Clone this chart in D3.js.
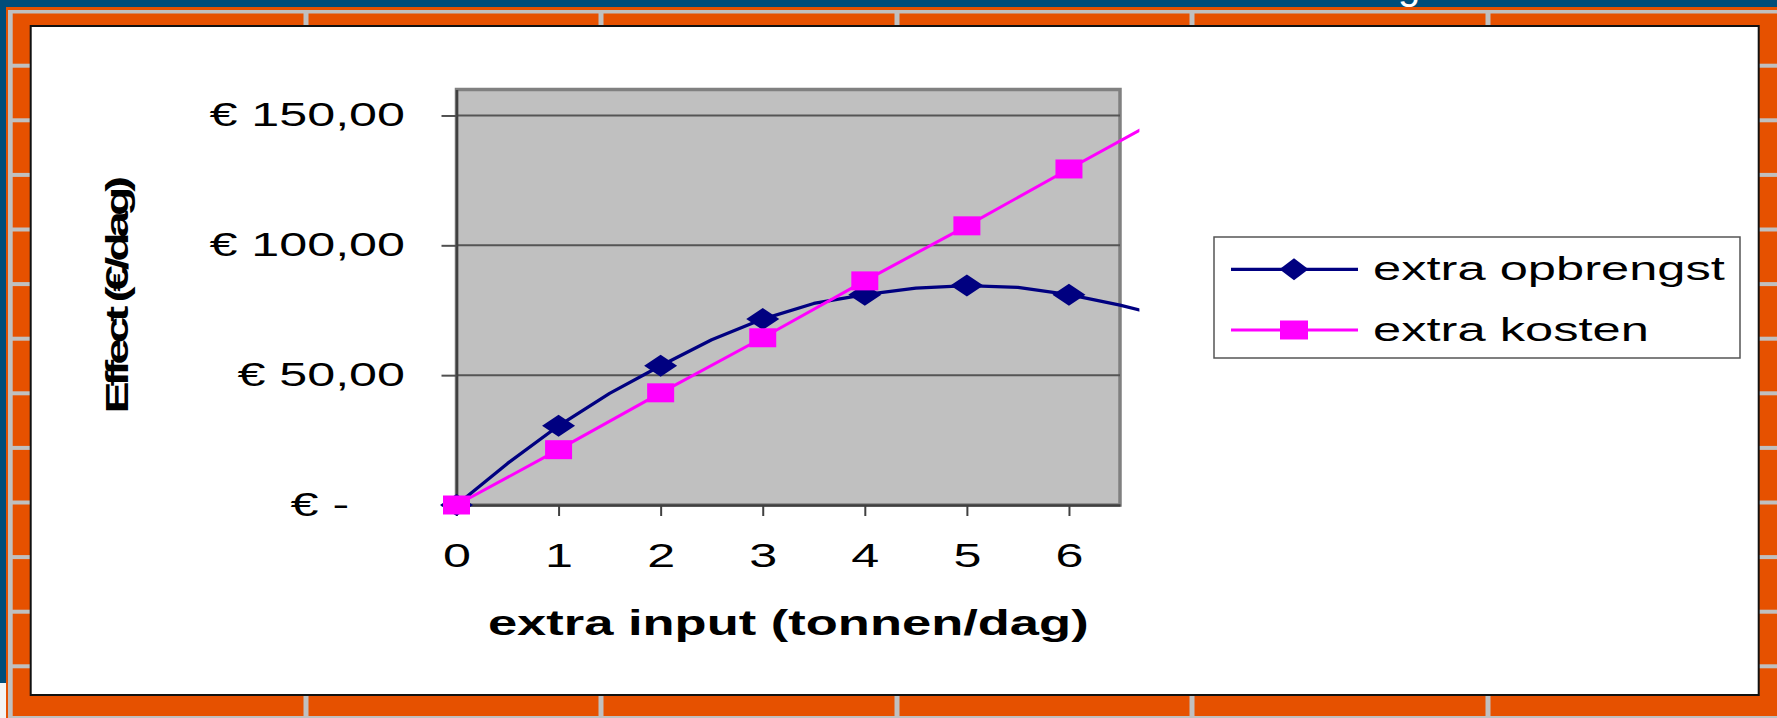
<!DOCTYPE html>
<html><head><meta charset="utf-8">
<script src="https://cdn.jsdelivr.net/npm/d3@7"></script>
<style>html,body{margin:0;padding:0;overflow:hidden;background:#E65100}</style>
</head><body><svg id="c" width="1777" height="718"></svg>
<script>
// ---- data ----
const opbrengstX = [0,0.5,1,1.5,2,2.5,3,3.5,4,4.5,5,5.5,6,6.5,7];
const opbrengst  = [0,16,30.5,43,53.6,63.6,71.6,77.6,81,83.5,84.5,83.8,81,77,72];
const kostenX = [0,1,2,3,4,5,6,7];
const kosten  = [0,21.3,43.2,64.4,86.3,107.5,129.4,151];
const markerX = [0,1,2,3,4,5,6];
const xTicks = [0,1,2,3,4,5,6];
const yTicks = [0,50,100,150];
const yTickLabels = ["€ -\u2007\u2007","€ 50,00","€ 100,00","€ 150,00"];
const seriesNames = ["extra opbrengst","extra kosten"];
const xTitle = "extra input (tonnen/dag)";
const yTitle = "Effect (€/dag)";
const xDomain = [0,6.5], yDomain = [0,160], xClip = 6.69;

// ---- layout / style ----
const W=1777,H=718;
const ORANGE="#E65100", GREY="#C0C0C0", BLUE="#004D7A";
const NAVY="#000080", PINK="#FF00FF";
const FONT="'Liberation Sans', Arial, sans-serif";
const SX=1.5; // horizontal text stretch seen in the reference

const svg=d3.select("#c");
// frame background
svg.append("rect").attr("width",W).attr("height",H).attr("fill",ORANGE);
svg.append("rect").attr("x",0).attr("y",0).attr("width",W).attr("height",7).attr("fill",BLUE);
svg.append("rect").attr("x",0).attr("y",0).attr("width",6).attr("height",683).attr("fill",BLUE);
svg.append("rect").attr("x",0).attr("y",683).attr("width",6).attr("height",35).attr("fill","#F4F4F4");
// title remnant (slide title cut off at the top)
svg.append("text").attr("x",1409).attr("y",-1.5).attr("text-anchor","middle")
  .attr("font-family",FONT).attr("font-size",40).attr("fill","#fff").text("g");
// grey brick lines
svg.append("rect").attr("x",8).attr("y",10).attr("width",W-8).attr("height",3.5).attr("fill",GREY);
svg.append("rect").attr("x",8).attr("y",10).attr("width",4.7).attr("height",H-10).attr("fill",GREY);
svg.append("rect").attr("x",8).attr("y",716).attr("width",W-8).attr("height",2).attr("fill",GREY);
const brickV=[306,601,897,1192,1488];
brickV.forEach(x=>{
  svg.append("rect").attr("x",x-2.5).attr("y",13).attr("width",5).attr("height",14).attr("fill",GREY);
  svg.append("rect").attr("x",x-2.5).attr("y",694).attr("width",5).attr("height",23).attr("fill",GREY);
});
d3.range(12).forEach(k=>{
  const y=65.7+54.6*k;
  svg.append("rect").attr("x",12).attr("y",y-2).attr("width",20).attr("height",4).attr("fill",GREY);
  svg.append("rect").attr("x",1758).attr("y",y-2).attr("width",19).attr("height",4).attr("fill",GREY);
});
// white chart area
svg.append("rect").attr("x",30.7).attr("y",26).attr("width",1728).attr("height",669)
  .attr("fill","#fff").attr("stroke","#111").attr("stroke-width",2);

// scales
const x=d3.scaleLinear().domain(xDomain).range([456.5,1120]);
const y=d3.scaleLinear().domain(yDomain).range([505,89.5]);

// plot area
svg.append("rect").attr("x",x(xDomain[0])).attr("y",y(yDomain[1]))
  .attr("width",x(xDomain[1])-x(xDomain[0])).attr("height",y(0)-y(yDomain[1]))
  .attr("fill","#C0C0C0").attr("stroke","#808080").attr("stroke-width",3.5);

// gridlines
svg.append("g").selectAll("line").data(yTicks.filter(d=>d>0)).join("line")
  .attr("x1",x(xDomain[0])).attr("x2",x(xDomain[1])).attr("y1",d=>y(d)).attr("y2",d=>y(d))
  .attr("stroke","#555").attr("stroke-width",2);

// y axis
const gy=svg.append("g").attr("transform",`translate(${x(xDomain[0])},0)`)
  .call(d3.axisLeft(y).tickValues(yTicks).tickSize(15).tickSizeOuter(0).tickFormat((d,i)=>yTickLabels[i]));
gy.select(".domain").attr("stroke","#404040").attr("stroke-width",2.5);
gy.selectAll(".tick line").attr("stroke","#505050").attr("stroke-width",2);
gy.selectAll(".tick text").attr("x",0).attr("dy","0.3em")
  .attr("transform","translate(-51.5,0) scale("+SX+",1)")
  .attr("font-family",FONT).attr("font-size",33.5).attr("fill","#000")
  .style("white-space","pre");

// x axis
const gx=svg.append("g").attr("transform",`translate(0,${y(0)})`)
  .call(d3.axisBottom(x).tickValues(xTicks).tickSize(11).tickSizeOuter(0).tickFormat(d3.format("d")));
gx.select(".domain").attr("stroke","#404040").attr("stroke-width",2.5);
gx.selectAll(".tick line").attr("stroke","#404040").attr("stroke-width",2);
gx.selectAll(".tick text").attr("y",0).attr("dy",0)
  .attr("transform","translate(0,62) scale("+SX+",1)")
  .attr("font-family",FONT).attr("font-size",33.5).attr("fill","#000");

// axis titles
svg.append("text").attr("transform",`translate(${(x(xDomain[0])+x(xDomain[1]))/2},635) scale(${SX},1)`)
  .attr("text-anchor","middle").attr("font-family",FONT).attr("font-weight","bold")
  .attr("font-size",35).attr("fill","#000").text(xTitle);
svg.append("text").attr("transform",`translate(128,${(y(0)+y(yDomain[1]))/2}) rotate(-90) scale(1.5,1)`)
  .attr("text-anchor","middle").attr("font-family",FONT).attr("font-weight","bold")
  .attr("font-size",32).attr("letter-spacing","-3.4px").attr("fill","#000").text(yTitle);

// markers
const diamond=(w,h)=>`M0,${-h/2}L${w/2},0L0,${h/2}L${-w/2},0Z`;
const square=(w,h)=>`M${-w/2},${-h/2}h${w}v${h}h${-w}Z`;

// clip for lines
svg.append("clipPath").attr("id","clip").append("rect")
  .attr("x",0).attr("y",0).attr("width",x(xClip)).attr("height",H);

const line=d3.line().x(d=>x(d[0])).y(d=>y(d[1]));
const navyPts=opbrengstX.map((v,i)=>[v,opbrengst[i]]);
const pinkPts=kostenX.map((v,i)=>[v,kosten[i]]);

svg.append("path").attr("clip-path","url(#clip)").attr("d",line(navyPts))
  .attr("fill","none").attr("stroke",NAVY).attr("stroke-width",3.3).attr("stroke-linejoin","round");
svg.append("g").selectAll("path").data(navyPts.filter(p=>markerX.includes(p[0]))).join("path")
  .attr("transform",d=>`translate(${x(d[0])},${y(d[1])})`).attr("d",diamond(33,22)).attr("fill",NAVY);

svg.append("path").attr("clip-path","url(#clip)").attr("d",line(pinkPts))
  .attr("fill","none").attr("stroke",PINK).attr("stroke-width",3).attr("stroke-linejoin","round");
svg.append("g").selectAll("path").data(pinkPts.filter(p=>markerX.includes(p[0]))).join("path")
  .attr("transform",d=>`translate(${x(d[0])},${y(d[1])})`).attr("d",square(27,19)).attr("fill",PINK);

// legend
const lg=svg.append("g");
lg.append("rect").attr("x",1214).attr("y",237).attr("width",526).attr("height",121)
  .attr("fill","#fff").attr("stroke","#555").attr("stroke-width",1.5);
const legItems=[{name:seriesNames[0],color:NAVY,shape:diamond(29,22),w:3.3},
                {name:seriesNames[1],color:PINK,shape:square(28,19),w:3}];
legItems.forEach((it,i)=>{
  const cy=269.3+i*60.7;
  lg.append("line").attr("x1",1231).attr("x2",1358).attr("y1",cy).attr("y2",cy)
    .attr("stroke",it.color).attr("stroke-width",it.w);
  lg.append("path").attr("transform",`translate(1294,${cy})`).attr("d",it.shape).attr("fill",it.color);
  lg.append("text").attr("transform",`translate(1373,${cy+11}) scale(1.49,1)`)
    .attr("font-family",FONT).attr("font-size",34).attr("fill","#000").text(it.name);
});
</script></body></html>
